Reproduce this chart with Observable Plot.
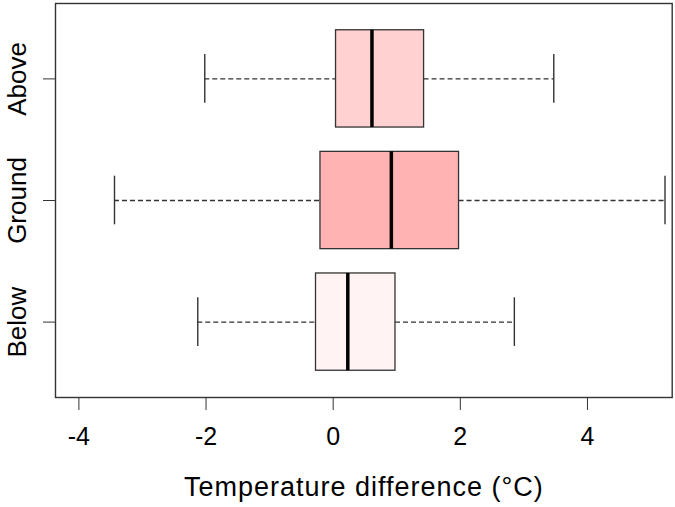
<!DOCTYPE html>
<html>
<head>
<meta charset="utf-8">
<script src="https://cdn.jsdelivr.net/npm/d3@7"></script>
<script src="https://cdn.jsdelivr.net/npm/@observablehq/plot@0.6"></script>
<style>
  html, body { margin: 0; padding: 0; background: #fff; }
</style>
</head>
<body>
<div id="chart"></div>
<script>
// Categories (top to bottom) and box statistics
const categories = ["Above", "Ground", "Below"];
const positions = [3, 2, 1];
const lowerWhisker = [-2.02, -3.44, -2.13];
const q1 = [0.045, -0.20, -0.27];
const median = [0.61, 0.915, 0.23];
const q3 = [1.43, 1.98, 0.98];
const upperWhisker = [3.47, 5.22, 2.85];
const fills = ["#FFD1D1", "#FFB3B3", "#FFF3F3"];
const xTicks = [-4, -2, 0, 2, 4];
const xLabel = ["Temperature difference (°C)"];

const data = categories.map((c, i) => ({
  cat: c, pos: positions[i], lw: lowerWhisker[i], q1: q1[i],
  med: median[i], q3: q3[i], uw: upperWhisker[i], fill: fills[i]
}));

const half = 0.4, capHalf = 0.2;
const edge = "#333";

const chart = Plot.plot({
  width: 675,
  height: 507,
  marginLeft: 55,
  marginRight: 3.3,
  marginTop: 3,
  marginBottom: 110,
  style: {fontFamily: "'Liberation Sans', Arial, sans-serif", fontSize: "25px", color: "#000", background: "#fff", overflow: "visible"},
  x: {domain: [-4.368, 5.333]},
  y: {domain: [0.38, 3.62]},
  marks: [
    // dashed whiskers
    Plot.ruleY(data, {y: "pos", x1: "lw", x2: "q1", stroke: edge, strokeWidth: 1.4, strokeDasharray: "5,3"}),
    Plot.ruleY(data, {y: "pos", x1: "q3", x2: "uw", stroke: edge, strokeWidth: 1.4, strokeDasharray: "5,3"}),
    // whisker caps
    Plot.ruleX(data, {x: "lw", y1: d => d.pos - capHalf, y2: d => d.pos + capHalf, stroke: edge, strokeWidth: 1.4}),
    Plot.ruleX(data, {x: "uw", y1: d => d.pos - capHalf, y2: d => d.pos + capHalf, stroke: edge, strokeWidth: 1.4}),
    // boxes
    Plot.rect(data, {x1: "q1", x2: "q3", y1: d => d.pos - half, y2: d => d.pos + half, fill: "fill", stroke: edge, strokeWidth: 1.3}),
    // medians
    Plot.ruleX(data, {x: "med", y1: d => d.pos - half, y2: d => d.pos + half, stroke: "#000", strokeWidth: 3.5}),
    Plot.frame({stroke: edge, strokeWidth: 1.4}),
    Plot.axisX({ticks: xTicks, tickFormat: d => d < 0 ? "-" + Math.abs(d) : String(d), tickSize: 13, tickPadding: 17, stroke: edge, fontSize: 25, label: null}),
    Plot.axisY({ticks: positions, tickFormat: d => categories[positions.indexOf(d)], tickSize: 12, tickPadding: 18, tickRotate: -90, stroke: edge, fontSize: 26, label: null}),
    Plot.text(xLabel, {text: d => d, frameAnchor: "bottom", dy: 98, lineAnchor: "bottom", fontSize: 27, className: "xlab"})
  ]
});
d3.select(chart).selectAll(".xlab text").style("letter-spacing", "1px");
document.getElementById("chart").appendChild(chart);
</script>
</body>
</html>
